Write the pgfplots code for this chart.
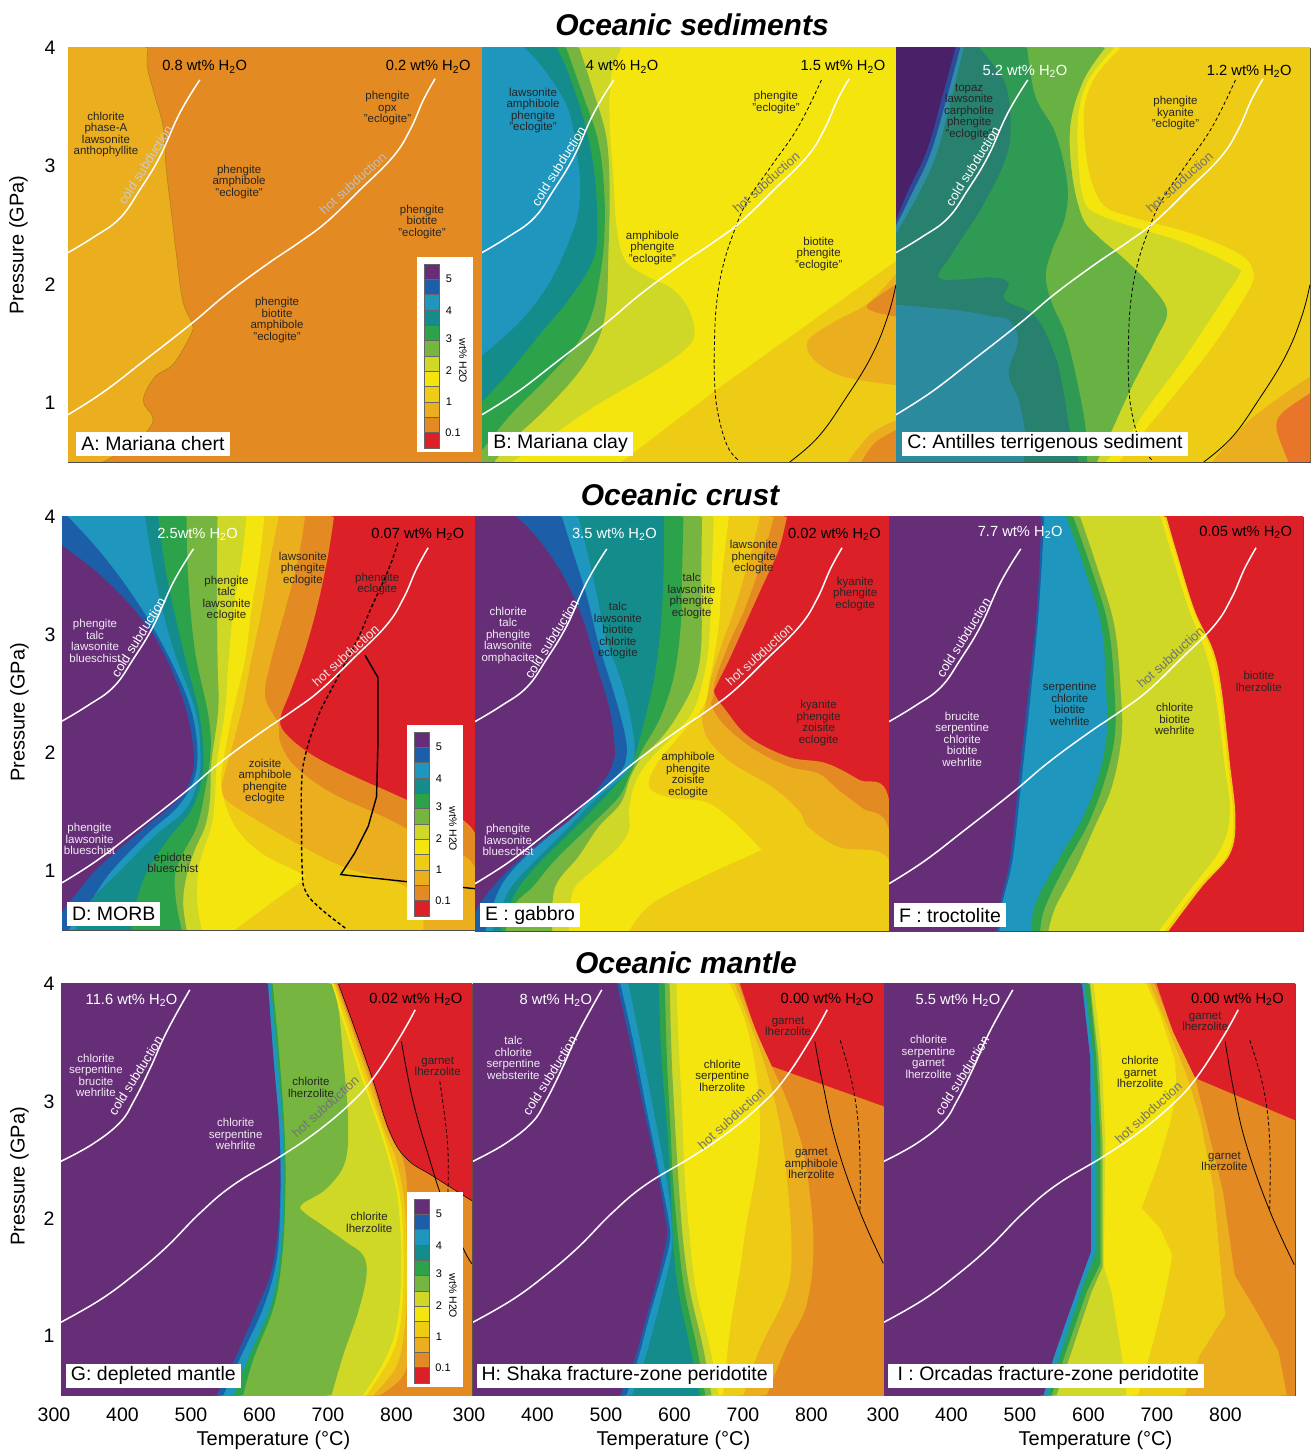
\documentclass[border=0pt]{standalone}
\usepackage{pgfplots}
\usepackage{pgfplotstable}
\usepackage{fontspec}
\setmainfont{Liberation Sans}
\pgfplotsset{compat=1.18}
\definecolor{c1}{HTML}{672E78}\definecolor{c2}{HTML}{1C5EA8}\definecolor{c3}{HTML}{1E96BE}
\definecolor{c4}{HTML}{148C8C}\definecolor{c5}{HTML}{2CA24A}\definecolor{c6}{HTML}{76B640}
\definecolor{c7}{HTML}{CFD827}\definecolor{c8}{HTML}{F5E50F}\definecolor{c9}{HTML}{EECB14}
\definecolor{c10}{HTML}{EAAE1E}\definecolor{c11}{HTML}{E38A22}\definecolor{c12}{HTML}{DB2028}
\definecolor{cx}{HTML}{E8752A}\definecolor{ca}{HTML}{2F9A54}\definecolor{cb}{HTML}{28806F}
\definecolor{cc}{HTML}{2C8A9E}\definecolor{cd}{HTML}{2E8CA5}\definecolor{ce}{HTML}{2A4C9A}
\definecolor{cf}{HTML}{4A2068}\definecolor{cg}{HTML}{68B244}
\pgfplotstableread{
T P
300 2.27
337 2.40
375 2.56
404 2.80
433 3.08
462 3.45
491 3.73
}\coldtop
\pgfplotstableread{
T P
300 0.90
351 1.09
409 1.35
479 1.67
530 1.92
588 2.17
636 2.36
675 2.53
723 2.80
771 3.08
796 3.31
815 3.56
832 3.74
}\hottop
\pgfplotstableread{
T P
300 2.49
347 2.64
386 2.82
406 3.00
430 3.28
454 3.59
488 3.95
}\coldbot
\pgfplotstableread{
T P
300 1.12
357 1.31
406 1.52
454 1.76
503 2.05
552 2.29
620 2.53
673 2.74
722 2.98
756 3.20
795 3.55
817 3.78
}\hotbot
\newcommand\Lf[2]{\addplot[fill=#1,draw=none,smooth,tension=.6,forget plot] coordinates {#2} -- (axis cs:0,0) -- (axis cs:0,5) -- cycle;}
\newcommand\LfD[2]{\addplot[fill=#1,draw=#1!70!black,line width=.4pt,smooth,tension=.6,forget plot] coordinates {#2} -- (axis cs:0,0) -- (axis cs:0,5) -- cycle;}
\newcommand\Ls[2]{\addplot[fill=#1,draw=none,forget plot] coordinates {#2} -- (axis cs:0,0) -- (axis cs:0,5) -- cycle;}
\newcommand\Cy[2]{\addplot[fill=#1,draw=none,smooth,tension=.6,forget plot] coordinates {#2} -- cycle;}
\newcommand\Cr[2]{\addplot[fill=#1,draw=none,smooth,tension=.6,forget plot] coordinates {#2} -- (axis cs:1000,0) -- cycle;}
\newcommand\Tr[2]{\addplot[fill=#1,draw=none,smooth,tension=.6,forget plot] coordinates {#2} -- (axis cs:1000,5) -- cycle;}
\newcommand\Pg[2]{\addplot[fill=#1,draw=none,forget plot] coordinates {#2} -- cycle;}
\newcommand\Bg[1]{\Pg{#1}{(295,.4)(905,.4)(905,4.1)(295,4.1)}}
\newcommand\Ln[2][.8pt]{\addplot[black,line width=#1,smooth,tension=.7,forget plot] coordinates {#2};}
\newcommand\Dh[2][.8pt]{\addplot[black,line width=#1,dash pattern=on 3.5pt off 2.5pt,smooth,tension=.7,forget plot] coordinates {#2};}
\newcommand\Geo[2]{\addplot[white,line width=1.5pt,smooth,tension=.7,forget plot] table[x=T,y=P] {#1};\addplot[white,line width=1.5pt,smooth,tension=.7,forget plot] table[x=T,y=P] {#2};}
\newcommand\lblf{\fontsize{11.5}{11.5}\selectfont}
\newcommand\Tx[3]{\node[font=\lblf,align=center,text=black!85] at (axis cs:#1,#2) {#3};}
\newcommand\Tw[3]{\node[font=\lblf,align=center,text=white!90!c1] at (axis cs:#1,#2) {#3};}
\newcommand\Wt[4][black]{\node[font=\fontsize{14.7}{15}\selectfont,text=#1] at (axis cs:#2,#3) {#4 wt\% H\textsubscript{2}O};}
\newcommand\Cs[3][white]{\node[font=\fontsize{13}{13}\selectfont,text=#1,rotate=58,inner sep=0pt] at (axis cs:{#2-4},{#3+.02}) {cold subduction};}
\newcommand\Hs[3][black!55]{\node[font=\fontsize{13}{13}\selectfont,text=#1,rotate=42,inner sep=0pt] at (axis cs:{#2-3},{#3+.025}) {hot subduction};}
\newcommand\Bx[3]{\node[font=\fontsize{19.5}{20}\selectfont,fill=white,anchor=south west,inner xsep=5pt,inner ysep=0pt,minimum height=24pt] at (axis cs:#1,#2) {#3};}
\pgfplotsset{pan/.style={scale only axis,width=414pt,height=414pt,anchor=south west,
  xmin=300,xmax=900,ymin=0.5,ymax=4,xtick=\empty,ytick=\empty,major tick length=0pt,
  axis line style={draw=black!70,line width=.6pt},
  tick label style={font=\fontsize{19.5}{20}\selectfont},
  label style={font=\fontsize{20}{20}\selectfont},
  /pgf/number format/assume math mode=true},
  xt/.style={xtick={300,400,500,600,700,800},xlabel={Temperature (°C)}},
  yt/.style={ytick={1,2,3,4},ylabel={Pressure (GPa)}}}
\newcommand\cbar[2]{\begin{scope}[shift={(#1pt,{(1450-#2)*1pt})},x=1pt,y=1pt]
 \fill[white] (0,0) rectangle (56,-195);
 \foreach \c [count=\i from 0] in {c1,c2,c3,c4,c5,c6,c7,c8,c9,c10,c11,c12}{
   \fill[\c] (7,{-7-15.33*\i}) rectangle (22,{-7-15.33*(\i+1)});
   \draw[black!60,line width=.4pt] (7,{-7-15.33*\i}) -- (22,{-7-15.33*\i});}
 \draw[black!60,line width=.4pt] (7,-7) rectangle (22,-191);
 \foreach \l/\y/\xx in {5/22/32,4/54/32,3/82/32,2/114/32,1/145/32,0.1/176/36}{
   \node[font=\fontsize{11}{11}\selectfont] at (\xx,-\y) {\l};}
 \node[font=\fontsize{10.5}{10.5}\selectfont,rotate=-90] at (46,-104) {wt\% H2O};
\end{scope}}
\begin{document}
\begin{tikzpicture}[x=1pt,y=1pt]
\path[use as bounding box] (0,0) rectangle (1314,1450);
% ---------- titles
\node[font=\fontsize{30}{30}\selectfont\bfseries\itshape] at (692,1425) {Oceanic sediments};
\node[font=\fontsize{30}{30}\selectfont\bfseries\itshape] at (680,955) {Oceanic crust};
\node[font=\fontsize{30}{30}\selectfont\bfseries\itshape] at (686,487) {Oceanic mantle};
% ---------- A
\begin{axis}[pan,yt,at={(68pt,988pt)},yticklabel style={xshift=-9pt},ylabel style={xshift=10pt,yshift=10pt}]
\Bg{c11}
\LfD{c10}{(416,4)(415,3.84)(426,3.59)(438,3.33)(442,3.0)(450,2.6)(457,2.26)(466,1.87)(479,1.68)(479,1.59)(453,1.33)(426,1.22)(409,1.02)(423,.88)(416,.77)(390,.63)(351,.5)}
\Geo{\coldtop}{\hottop}
\Cs[white!80!black]{416}{2.99}\Hs[white!75!black]{716}{2.83}
\Wt{498}{3.84}{0.8}\Wt{822}{3.84}{0.2}
\Tx{355}{3.27}{chlorite\\phase-A\\lawsonite\\anthophyllite}
\Tx{763}{3.49}{phengite\\opx\\"eclogite"}
\Tx{548}{2.87}{phengite\\amphibole\\"eclogite"}
\Tx{813}{2.53}{phengite\\biotite\\"eclogite"}
\Tx{603}{1.70}{phengite\\biotite\\amphibole\\"eclogite"}
\Bx{312}{.55}{A: Mariana chert}
\end{axis}
% ---------- B
\begin{axis}[pan,at={(482pt,988pt)}]
\Bg{c8}
\Pg{c9}{(905,2.22)(642,1.12)(502,.5)(502,.4)(905,.4)}
\Cy{c10}{(900,2.09)(859,1.84)(806,1.67)(772,1.52)(782,1.36)(825,1.22)(900,1.15)}
\Cy{c11}{(900,2.0)(859,1.83)(869,1.77)(900,1.73)}
\Cr{c10}{(900,.85)(864,.74)(830,.5)}
\Cr{c11}{(900,.77)(869,.66)(850,.5)}
\Lf{c7}{(502,4)(487,3.76)(485,3.36)(490,2.94)(495,2.49)(507,2.21)(536,2.08)(574,1.97)(598,1.81)(608,1.59)(594,1.45)(545,1.25)(463,.97)(391,.68)(343,.5)}
\Lf{c6}{(441,4)(461,3.64)(480,3.25)(485,2.80)(483,2.23)(480,1.81)(468,1.53)(439,1.25)(391,.94)(343,.68)(318,.5)}
\Lf{c5}{(422,4)(444,3.64)(468,3.22)(477,2.80)(477,2.38)(470,2.04)(458,1.73)(434,1.47)(391,1.19)(343,.91)(300,.60)}
\Lf{c4}{(408,4)(425,3.79)(449,3.36)(463,2.94)(467,2.49)(461,2.21)(429,1.90)(381,1.56)(338,1.25)(300,1.01)}
\Lf{c3}{(362,4)(391,3.81)(425,3.48)(439,3.05)(442,2.77)(434,2.49)(400,2.04)(357,1.70)(300,1.40)}
\Dh{(792,3.73)(758,3.33)(719,3.0)(685,2.71)(666,2.46)(649,2.15)(640,1.84)(637,1.53)(637,1.19)(642,.91)(656,.63)(673,.51)}
\Ln{(746,.5)(787,.71)(825,1.02)(864,1.39)(888,1.73)(900,2.0)}
\Geo{\coldtop}{\hottop}
\Cs{415}{2.98}\Hs{715}{2.84}
\Wt{503}{3.84}{4}\Wt{823}{3.84}{1.5}
\Tx{374}{3.47}{lawsonite\\amphibole\\phengite\\"eclogite"}
\Tx{726}{3.54}{phengite\\"eclogite"}
\Tx{547}{2.31}{amphibole\\phengite\\"eclogite"}
\Tx{788}{2.26}{biotite\\phengite\\"eclogite"}
\Bx{309}{.55}{B: Mariana clay}
\end{axis}
% ---------- C
\begin{axis}[pan,at={(896pt,988pt)}]
\Bg{c9}
\Cr{c10}{(900,1.22)(864,1.08)(806,.82)(758,.5)}
\Cr{cx}{(900,1.08)(859,.91)(852,.77)(869,.5)}
\Lf{c8}{(625,4)(589,3.76)(573,3.5)(574,3.17)(584,2.86)(603,2.66)(642,2.57)(729,2.43)(797,2.26)(817,2.12)(811,1.95)(758,1.47)(705,1.08)(661,.77)(623,.5)}
\Lf{c7}{(616,4)(579,3.73)(564,3.42)(565,2.97)(574,2.69)(594,2.59)(642,2.49)(719,2.35)(792,2.15)(797,2.08)(777,1.90)(719,1.39)(666,.97)(632,.68)(603,.5)}
\Lf{cg}{(603,4)(572,3.73)(553,3.36)(555,2.94)(570,2.57)(594,2.40)(632,2.21)(671,1.98)(693,1.77)(676,1.53)(642,1.14)(613,.77)(591,.5)}
\Lf{ca}{(490,4)(502,3.59)(531,3.28)(548,2.86)(545,2.57)(526,2.29)(517,2.07)(526,1.84)(545,1.59)(560,1.25)(574,.82)(577,.5)}
\Lf{cb}{(421,4)(458,3.7)(466,3.33)(458,3.05)(425,2.66)(381,2.26)(364,2.05)(439,2.06)(463,2.01)(458,1.87)(502,1.73)(531,1.39)(543,1.08)(553,.74)(565,.5)}
\addplot[fill=cc,draw=none,smooth,tension=.6,forget plot] coordinates {(300,1.83)(391,1.78)(440,1.73)(463,1.70)(477,1.53)(463,1.25)(478,1.02)(487,.74)(485,.5)} -- (axis cs:0,0) -- (axis cs:0,1.83) -- cycle;
\Lf{cd}{(398,4)(381,3.59)(359,3.11)(333,2.77)(300,2.43)}
\Lf{ce}{(393,4)(374,3.59)(350,3.11)(323,2.77)(300,2.50)}
\Lf{cf}{(386,4)(367,3.59)(345,3.14)(318,2.80)(300,2.55)}
\Dh{(792,3.73)(758,3.33)(719,3.0)(685,2.71)(666,2.46)(649,2.15)(640,1.84)(637,1.53)(637,1.19)(642,.91)(656,.63)(673,.51)}
\Ln{(746,.5)(787,.71)(825,1.02)(864,1.39)(888,1.73)(900,2.0)}
\Geo{\coldtop}{\hottop}
\Cs{415}{2.98}\Hs{714}{2.84}
\Wt[white]{487}{3.80}{5.2}\Wt{812}{3.80}{1.2}
\Tx{406}{3.46}{topaz\\lawsonite\\carpholite\\phengite\\"eclogite"}
\Tx{705}{3.45}{phengite\\kyanite\\"eclogite"}
\Bx{309}{.55}{C: Antilles terrigenous sediment}
\end{axis}
% ---------- D
\begin{axis}[pan,yt,at={(62pt,520pt)},width=413pt,height=413pt,yticklabel style={xshift=-3pt},ylabel style={xshift=11pt,yshift=9pt}]
\Bg{c12}
\Lf{c11}{(695,4)(687,3.69)(672,3.27)(653,2.87)(633,2.54)(617,2.28)(629,2.14)(667,1.97)(725,1.80)(798,1.61)(900,1.32)(905,.4)}
\Lf{c10}{(653,4)(643,3.64)(624,3.21)(604,2.79)(595,2.48)(614,2.25)(617,2.09)(638,1.89)(692,1.66)(774,1.44)(837,1.24)(900,1.03)(905,.4)}
\Lf{c9}{(615,4)(604,3.69)(590,3.21)(575,2.79)(561,2.37)(546,2.03)(532,1.72)(537,1.61)(580,1.44)(648,1.21)(711,1.03)(798,.87)(822,.67)(825,.5)}
\Lf{c8}{(594,4)(587,3.64)(575,3.21)(566,2.79)(549,2.37)(534,1.92)(532,1.69)(551,1.38)(590,1.15)(643,.99)(650,.93)(604,.73)(551,.5)}
\Lf{c7}{(568,4)(561,3.64)(549,3.21)(542,2.79)(537,2.37)(525,1.92)(522,1.61)(517,1.38)(500,1.07)(496,.82)(498,.65)(503,.5)}
\Lf{c6}{(526,4)(525,3.5)(526,2.79)(527,2.37)(517,1.92)(515,1.61)(508,1.38)(493,1.18)(481,.96)(476,.73)(481,.5)}
\Lf{c5}{(481,4)(483,3.5)(493,2.87)(512,2.34)(516,2.03)(508,1.69)(496,1.38)(474,1.13)(464,.96)(466,.73)(474,.5)}
\Lf{c4}{(440,4)(452,3.5)(476,2.87)(498,2.37)(505,2.03)(503,1.78)(488,1.52)(454,1.27)(423,.99)(406,.70)(401,.5)}
\Lf{c3}{(421,4)(435,3.5)(459,2.93)(493,2.37)(501,2.03)(498,1.78)(479,1.52)(435,1.30)(382,.99)(338,.73)(319,.5)}
\Lf{c2}{(309,4)(353,3.72)(401,3.35)(445,2.93)(483,2.45)(496,2.09)(493,1.80)(469,1.55)(425,1.32)(372,1.0)(343,.76)(309,.5)}
\Lf{c1}{(300,3.76)(353,3.52)(401,3.24)(440,2.93)(476,2.45)(491,2.03)(488,1.80)(469,1.61)(416,1.35)(353,1.03)(314,.76)(300,.65)}
\addplot[black,line width=1.4pt,forget plot] coordinates {(740,2.83)(759,2.64)(759,2.09)(757,1.63)(745,1.38)(725,1.15)(705,.97)(800,.91)(900,.85)};
\Dh[1.4pt]{(788,3.78)(774,3.55)(750,3.24)(729,2.96)(696,2.59)(672,2.31)(653,1.97)(648,1.72)(648,1.38)(649,1.01)(653,.84)(672,.70)(713,.51)}
\Geo{\coldtop}{\hottop}
\Cs{415}{2.96}\Hs[white!90!black]{715}{2.80}
\node[font=\fontsize{14.7}{15}\selectfont,text=white] at (axis cs:497,3.85) {2.5wt\% H\textsubscript{2}O};
\Wt{817}{3.85}{0.07}
\Tw{348}{2.95}{phengite\\talc\\lawsonite\\blueschist}
\Tx{539}{3.31}{phengite\\talc\\lawsonite\\eclogite}
\Tx{650}{3.56}{lawsonite\\phengite\\eclogite}
\Tx{758}{3.43}{phengite\\eclogite}
\Tx{595}{1.76}{zoisite\\amphibole\\phengite\\eclogite}
\Tw{340}{1.27}{phengite\\lawsonite\\blueschist}
\Tx{461}{1.07}{epidote\\blueschist}
\Bx{307}{.53}{D: MORB}
\end{axis}
% ---------- E
\begin{axis}[pan,at={(475pt,519pt)}]
\Bg{c12}
\Lf{c11}{(752,4)(740,3.72)(716,3.41)(692,3.10)(668,2.79)(651,2.59)(647,2.51)(663,2.37)(697,2.14)(755,1.97)(808,1.92)(856,1.78)(900,1.61)(905,.4)}
\Lf{c10}{(733,4)(716,3.64)(692,3.24)(668,2.93)(648,2.62)(646,2.49)(643,2.40)(663,2.23)(706,2.03)(755,1.89)(798,1.83)(827,1.69)(861,1.54)(900,1.35)(905,.4)}
\Lf{c9}{(713,4)(697,3.64)(677,3.24)(658,2.93)(641,2.62)(634,2.40)(629,2.28)(639,2.11)(672,1.92)(730,1.72)(769,1.52)(783,1.38)(827,1.21)(900,1.10)(905,.4)}
\Lf{c8}{(668,4)(658,3.5)(653,3.07)(641,2.65)(631,2.40)(595,2.14)(564,1.92)(552,1.72)(581,1.63)(634,1.59)(672,1.44)(711,1.21)(709,1.17)(634,.97)(556,.73)(523,.5)}
\Lf{c7}{(646,4)(643,3.5)(639,2.93)(629,2.59)(614,2.34)(585,2.14)(552,1.94)(532,1.75)(523,1.52)(523,1.35)(503,1.18)(460,.96)(441,.82)(436,.5)}
\Lf{c6}{(629,4)(628,3.5)(628,2.93)(619,2.62)(595,2.34)(571,2.14)(542,1.97)(525,1.80)(511,1.58)(479,1.38)(450,1.13)(416,.87)(412,.5)}
\Lf{c5}{(602,4)(600,3.5)(598,3.07)(588,2.65)(569,2.31)(542,2.03)(525,1.83)(508,1.63)(465,1.38)(416,1.10)(383,.87)(358,.73)(344,.5)}
\Lf{c4}{(574,4)(573,3.5)(569,3.07)(560,2.65)(547,2.31)(532,1.99)(518,1.83)(484,1.61)(441,1.35)(392,1.07)(358,.82)(337,.5)}
\Lf{c3}{(450,4)(462,3.72)(477,3.33)(489,2.99)(513,2.59)(527,2.25)(531,1.99)(518,1.83)(474,1.61)(431,1.35)(383,1.07)(349,.84)(325,.5)}
\Lf{c2}{(426,4)(441,3.72)(462,3.33)(479,2.93)(503,2.48)(518,2.14)(519,1.96)(508,1.83)(465,1.61)(416,1.35)(363,1.07)(334,.84)(315,.5)}
\Lf{c1}{(361,4)(392,3.81)(426,3.52)(455,3.16)(474,2.79)(494,2.40)(502,2.09)(501,1.94)(484,1.75)(441,1.46)(392,1.24)(344,.99)(310,.76)(300,.65)}
\Geo{\coldtop}{\hottop}
\Cs{415}{2.95}\Hs[white!90!black]{715}{2.81}
\Wt[white]{502}{3.85}{3.5}\Wt{821}{3.85}{0.02}
\Tw{348}{3.0}{chlorite\\talc\\phengite\\lawsonite\\omphacite}
\Tx{507}{3.04}{talc\\lawsonite\\biotite\\chlorite\\eclogite}
\Tx{614}{3.33}{talc\\lawsonite\\phengite\\eclogite}
\Tx{704}{3.66}{lawsonite\\phengite\\eclogite}
\Tx{851}{3.35}{kyanite\\phengite\\eclogite}
\Tx{798}{2.26}{kyanite\\phengite\\zoisite\\eclogite}
\Tx{609}{1.82}{amphibole\\phengite\\zoisite\\eclogite}
\Tw{348}{1.27}{phengite\\lawsonite\\blueschist}
\Bx{307}{.53}{E : gabbro}
\end{axis}
% ---------- F
\begin{axis}[pan,at={(889pt,519pt)}]
\Bg{c12}
\Lf{c9}{(702,4)(719,3.66)(743,3.21)(770,2.87)(782,2.54)(794,1.92)(802,1.46)(794,1.15)(753,.87)(705,.5)}
\Lf{c8}{(699,4)(717,3.66)(741,3.21)(767,2.87)(779,2.54)(791,1.92)(799,1.46)(791,1.15)(748,.87)(700,.5)}
\Lf{c7}{(694,4)(711,3.66)(735,3.21)(758,2.87)(772,2.54)(786,1.92)(794,1.52)(782,1.21)(739,.87)(691,.5)}
\Lf{c6}{(577,4)(603,3.55)(627,3.07)(636,2.51)(637,2.14)(623,1.72)(598,1.38)(570,1.02)(541,.70)(531,.5)}
\Lf{c5}{(567,4)(594,3.55)(618,3.07)(627,2.51)(627,2.14)(613,1.78)(589,1.41)(555,1.05)(526,.70)(519,.5)}
\Lf{c3}{(557,4)(584,3.55)(608,3.07)(615,2.51)(615,2.14)(603,1.80)(579,1.44)(545,1.10)(512,.73)(507,.5)}
\Lf{c2}{(525,4)(517,3.21)(503,2.37)(491,1.72)(479,1.10)(464,.73)(460,.5)}
\Lf{c1}{(521,4)(514,3.21)(499,2.37)(487,1.72)(475,1.10)(461,.73)(456,.5)}
\Geo{\coldtop}{\hottop}
\Cs{412}{2.96}\Hs{711}{2.79}
\Wt[white]{490}{3.87}{7.7}\Wt{817}{3.87}{0.05}
\Tw{406}{2.12}{brucite\\serpentine\\chlorite\\biotite\\wehrlite}
\Tx{562}{2.42}{serpentine\\chlorite\\biotite\\wehrlite}
\Tx{714}{2.29}{chlorite\\biotite\\wehrlite}
\Tx{836}{2.61}{biotite\\lherzolite}
\Bx{307}{.53}{F : troctolite}
\end{axis}
% ---------- G
\begin{axis}[pan,xt,yt,at={(61pt,55pt)},width=411pt,height=411pt,xticklabel style={xshift=-7pt,yshift=-9pt},yticklabel style={xshift=-3pt},xlabel style={xshift=7pt,yshift=-3pt},ylabel style={xshift=13pt,yshift=8pt}]
\Bg{c11}
\Tr{c12}{(705,4)(727,3.65)(756,3.17)(780,2.74)(805,2.51)(844,2.36)(901,2.15)}
\Lf{c10}{(702,4)(724,3.65)(753,3.17)(778,2.74)(800,2.49)(807,2.09)(809,1.52)(808,.95)(800,.67)(766,.5)}
\Lf{c9}{(700,4)(722,3.65)(749,3.17)(771,2.77)(790,2.49)(802,2.09)(805,1.52)(802,1.09)(790,.75)(756,.5)}
\Lf{c8}{(698,4)(717,3.65)(744,3.17)(766,2.80)(783,2.49)(797,2.09)(800,1.52)(795,1.09)(780,.81)(746,.5)}
\Lf{c7}{(695,4)(710,3.71)(734,3.28)(761,2.83)(778,2.51)(792,2.15)(797,1.58)(790,1.09)(771,.78)(741,.5)}
\Lf{c6}{(695,4)(705,3.79)(712,3.37)(719,2.86)(715,2.49)(688,2.26)(651,2.12)(656,2.05)(678,1.96)(717,1.80)(741,1.69)(746,1.52)(734,1.21)(712,.84)(695,.5)}
\Lf{c5}{(609,4)(619,3.37)(627,2.66)(627,2.09)(622,1.63)(610,1.24)(581,.81)(566,.5)}
\Lf{c3}{(606,4)(616,3.37)(625,2.66)(625,2.09)(619,1.63)(605,1.24)(573,.81)(552,.5)}
\Lf{c2}{(602,4)(610,3.37)(619,2.71)(620,2.09)(614,1.63)(595,1.24)(561,.81)(537,.5)}
\Lf{c1}{(602,4)(610,3.37)(619,2.71)(619,2.09)(608,1.58)(586,1.24)(549,.75)(527,.5)}
\Ln[.5pt]{(705,4)(727,3.65)(756,3.17)(780,2.74)(805,2.51)(844,2.36)(901,2.15)}
\Ln{(797,3.51)(814,3.0)(839,2.49)(858,2.15)(887,1.75)(901,1.61)}
\Dh{(853,3.17)(860,2.88)(865,2.57)(865,2.23)}
\Geo{\coldbot}{\hotbot}
\Cs{413}{3.2}\Hs{689}{2.93}
\Wt[white]{403}{3.86}{11.6}\Wt{818}{3.87}{0.02}
\Tw{351}{3.22}{chlorite\\serpentine\\brucite\\wehrlite}
\Tw{555}{2.72}{chlorite\\serpentine\\wehrlite}
\Tx{665}{3.12}{chlorite\\lherzolite}
\Tx{750}{1.97}{chlorite\\lherzolite}
\Tx{850}{3.3}{garnet\\lherzolite}
\Bx{307}{.56}{G: depleted mantle}
\end{axis}
% ---------- H
\begin{axis}[pan,xt,at={(473pt,55pt)},width=411pt,height=411pt,xticklabel style={xshift=-4pt,yshift=-9pt},xlabel style={xshift=-5pt,yshift=-3pt}]
\Bg{c11}
\Pg{c12}{(690,4.05)(690,4)(714,3.57)(736,3.30)(899,2.96)(905,2.94)(905,4.05)}
\Lf{c10}{(687,4)(714,3.59)(736,3.30)(763,2.94)(785,2.49)(797,1.80)(787,1.27)(758,.92)(729,.5)}
\Lf{c9}{(682,4)(709,3.59)(726,3.31)(743,2.94)(755,2.52)(765,1.80)(758,1.38)(719,.90)(695,.5)}
\Lf{c8}{(675,4)(699,3.65)(714,3.22)(719,2.80)(717,2.57)(709,2.26)(699,1.95)(690,1.58)(680,1.24)(673,.95)(665,.5)}
\Lf{c7}{(597,4)(600,3.51)(605,2.94)(609,2.37)(617,1.80)(626,1.38)(646,.90)(658,.5)}
\Lf{c6}{(587,4)(590,3.37)(595,2.80)(600,2.32)(607,1.80)(617,1.38)(636,.90)(648,.5)}
\Lf{c5}{(580,4)(583,3.37)(588,2.80)(592,2.32)(600,1.80)(609,1.38)(627,.90)(639,.5)}
\Lf{c4}{(571,4)(575,3.37)(583,2.80)(588,2.32)(592,1.80)(600,1.38)(617,.90)(631,.5)}
\Lf{c3}{(527,4)(544,3.51)(563,2.94)(583,2.32)(591,1.89)(588,1.66)(571,1.24)(551,.81)(532,.5)}
\Lf{c2}{(515,4)(534,3.51)(553,2.94)(573,2.37)(586,1.98)(587,1.80)(575,1.52)(558,1.18)(541,.81)(524,.5)}
\Lf{c1}{(510,4)(529,3.51)(549,2.94)(568,2.43)(580,2.03)(583,1.86)(573,1.58)(554,1.18)(536,.81)(515,.5)}
\Ln{(799,3.51)(811,3.14)(831,2.63)(865,2.06)(899,1.62)}
\Dh{(836,3.52)(855,3.11)(864,2.66)(865,2.06)}
\Geo{\coldbot}{\hotbot}
\Cs{416}{3.2}\Hs{680}{2.83}
\Wt[white]{421}{3.86}{8}\Wt{817}{3.87}{0.00}
\Tw{359}{3.37}{talc\\chlorite\\serpentine\\websterite}
\Tx{664}{3.22}{chlorite\\serpentine\\lherzolite}
\Tx{760}{3.64}{garnet\\lherzolite}
\Tx{794}{2.47}{garnet\\amphibole\\lherzolite}
\Bx{305}{.56}{H: Shaka fracture-zone peridotite}
\end{axis}
% ---------- I
\begin{axis}[pan,xt,at={(884pt,55pt)},width=411pt,height=411pt,xticklabel style={xshift=-1pt,yshift=-9pt},xlabel style={xshift=6pt,yshift=-3pt}]
\Bg{c11}
\Pg{c12}{(698,4.05)(698,4)(722,3.59)(754,3.20)(900,2.84)(905,2.82)(905,4.05)}
\Ls{c10}{(695,4)(722,3.59)(754,3.20)(771,2.80)(795,2.23)(812,1.52)(844,1.21)(876,.87)(888,.5)}
\Ls{c9}{(688,4)(713,3.65)(742,3.22)(761,2.86)(781,2.26)(798,1.18)(761,.84)(739,.5)}
\Ls{c8}{(683,4)(703,3.74)(725,3.34)(727,3.08)(717,2.80)(698,2.43)(676,2.09)(703,1.92)(721,1.69)(710,1.35)(693,.95)(671,.5)}
\Ls{c7}{(606,4)(618,3.37)(623,2.66)(621,1.59)(632,1.38)(647,.84)(654,.5)}
\Ls{c6}{(601,4)(613,3.37)(619,2.66)(619,1.59)(603,1.38)(572,.84)(552,.5)}
\Ls{c5}{(600,4)(610,3.37)(616,2.66)(616,1.62)(596,1.38)(564,.84)(545,.5)}
\Ls{c3}{(593,4)(606,3.37)(610,2.66)(610,1.72)(591,1.44)(557,.84)(540,.5)}
\Ls{c1}{(589,4)(601,3.37)(602,2.66)(602,1.72)(581,1.38)(547,.81)(533,.5)}
\Ln{(798,3.51)(811,3.08)(829,2.63)(863,2.07)(899,1.61)}
\Dh{(834,3.52)(854,3.11)(863,2.66)(863,2.07)}
\Geo{\coldbot}{\hotbot}
\Cs{418}{3.2}\Hs{689}{2.88}
\Wt[white]{408}{3.86}{5.5}\Wt{816}{3.87}{0.00}
\Tw{365}{3.38}{chlorite\\serpentine\\garnet\\lherzolite}
\Tx{674}{3.25}{chlorite\\garnet\\lherzolite}
\Tx{769}{3.68}{garnet\\lherzolite}
\Tx{797}{2.49}{garnet\\lherzolite}
\Bx{305}{.56}{\hspace{5pt}I : Orcadas fracture-zone peridotite}
\end{axis}
\cbar{417}{257}
\cbar{407}{725}
\cbar{407}{1192}
\end{tikzpicture}
\end{document}
